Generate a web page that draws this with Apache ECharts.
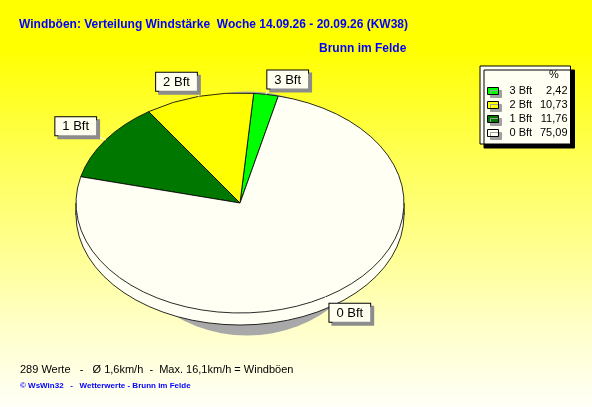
<!DOCTYPE html>
<html><head><meta charset="utf-8">
<script src="https://cdn.jsdelivr.net/npm/echarts@6/dist/echarts.min.js"></script>
<style>html,body{margin:0;padding:0;overflow:hidden;background:#fff}#c{width:592px;height:407px}</style>
</head><body><div id="c"></div>
<script>
// ---- data ----
const categories = ['3 Bft', '2 Bft', '1 Bft', '0 Bft'];
const percents = [2.42, 10.73, 11.76, 75.09];
const colors = ['#00FF00', '#FFFF00', '#007800', '#FFFFF4'];
const titleText = 'Windböen: Verteilung Windstärke  Woche 14.09.26 - 20.09.26 (KW38)';
const subtitleText = 'Brunn im Felde';
const legendHeader = '%';
const footerText = '289 Werte   -   Ø 1,6km/h  -  Max. 16,1km/h = Windböen';
const creditText = '© WsWin32   -   Wetterwerte - Brunn im Felde';

// ---- layout / style ----
const FONT = '"Liberation Sans", Arial, sans-serif';
const CX = 240, CY = 203, RX = 164, RY = 110, DEPTH = 12, START = 13.5;
const SH = {x: 247, y: 213.5, rx: 132, ry: 122};

const total = percents.reduce((a, b) => a + b, 0);
const cum = []; let acc = 0; percents.forEach(v => { cum.push(acc); acc += v; });
const rad = d => d * Math.PI / 180;
const fmt = v => v.toFixed(2).replace('.', ',');

function baseItem() {
  const k = RY / RX;
  return {type: 'group', children: [
    {type: 'group', x: SH.x, y: SH.y, scaleY: SH.ry / SH.rx, children: [
      {type: 'circle', shape: {cx: 0, cy: 0, r: SH.rx}, style: {fill: '#A8A8A8'}}]},
    {type: 'group', x: CX, y: CY + DEPTH, scaleY: k, children: [
      {type: 'circle', shape: {cx: 0, cy: 0, r: RX}, style: {fill: colors[3], stroke: '#000', lineWidth: 1, strokeNoScale: true}}]},
    {type: 'rect', shape: {x: CX - RX, y: CY, width: 2 * RX, height: DEPTH}, style: {fill: colors[3]}},
    {type: 'line', shape: {x1: CX - RX, y1: CY, x2: CX - RX, y2: CY + DEPTH}, style: {stroke: '#000', lineWidth: 1}},
    {type: 'line', shape: {x1: CX + RX, y1: CY, x2: CX + RX, y2: CY + DEPTH}, style: {stroke: '#000', lineWidth: 1}}
  ]};
}

function sliceRender(idx) {
  return function (params, api) {
    const v = api.value(0);
    const span = v / total * 360;
    const thEnd = START - cum[idx] / total * 360;
    const thStart = thEnd - span;
    const thMid = (thStart + thEnd) / 2;
    const s = Math.sin(rad(thMid)), c = Math.cos(rad(thMid));
    const px = CX + RX * s, py = CY - RY * c;
    const ext = 8;
    const lx = px + ext * s + (s < -0.6 ? -3 : 0), ly = py - ext * c + (c > 0.9 ? 2 : 0);
    return {type: 'group', children: [
      {type: 'group', x: CX, y: CY, scaleY: RY / RX, children: [
        {type: 'sector', shape: {cx: 0, cy: 0, r: RX, r0: 0, startAngle: rad(thStart - 90), endAngle: rad(thEnd - 90), clockwise: true},
          style: {fill: colors[idx], stroke: '#000', lineWidth: 1, strokeNoScale: true}}]},
      {type: 'line', z2: 5, shape: {x1: px, y1: py, x2: lx, y2: ly}, style: {stroke: '#FFFFFF', lineWidth: 1}},
      {type: 'text', z2: 10, x: lx, y: ly, style: {
        text: params.seriesName, fill: '#000', font: '13px ' + FONT,
        align: s >= 0 ? 'left' : 'right', verticalAlign: c >= 0 ? 'bottom' : 'top',
        backgroundColor: '#FFFFF0', borderColor: '#000', borderWidth: 1,
        padding: [3, 7, 2, 7], lineHeight: 13,
        shadowColor: '#8C8C8C', shadowOffsetX: 3, shadowOffsetY: 3, shadowBlur: 0}}
    ]};
  };
}

const series = [{
  type: 'custom', name: 'base', coordinateSystem: 'none', silent: true, data: [[0]], renderItem: baseItem, z: 1
}];
categories.forEach((name, i) => {
  series.push({
    type: 'custom', name: name, coordinateSystem: 'none', silent: true, z: 2,
    itemStyle: {color: colors[i]},
    data: [[percents[i]]],
    renderItem: sliceRender(i)
  });
});

const chart = echarts.init(document.getElementById('c'), null, {renderer: 'canvas'});
chart.setOption({
  animation: false,
  backgroundColor: {type: 'linear', x: 0, y: 0, x2: 0, y2: 1, colorStops: [
    {offset: 0, color: '#FFFF00'}, {offset: 0.12, color: '#FFFF00'}, {offset: 0.37, color: '#FFFF50'},
    {offset: 0.61, color: '#FFFF90'}, {offset: 0.8, color: '#FFFFC8'}, {offset: 1, color: '#FFFFF8'}]},
  title: [
    {text: titleText, left: 19, top: 19, padding: 0, textStyle: {color: '#0000FF', fontWeight: 'bold', fontSize: 12, fontFamily: FONT}},
    {text: subtitleText, left: 319, top: 43, padding: 0, textStyle: {color: '#0000FF', fontWeight: 'bold', fontSize: 12, fontFamily: FONT}},
    {text: legendHeader, left: 549, top: 69, padding: 0, textStyle: {color: '#000', fontWeight: 'normal', fontSize: 11, fontFamily: FONT}},
    {text: footerText, left: 20, top: 364, padding: 0, textStyle: {color: '#000', fontWeight: 'normal', fontSize: 11, fontFamily: FONT}},
    {text: creditText, left: 20, top: 382, padding: 0, textStyle: {color: '#0000FF', fontWeight: 'bold', fontSize: 8, fontFamily: FONT}}
  ],
  legend: {
    data: categories, orient: 'vertical', left: 480, top: 66, icon: 'rect',
    itemWidth: 11, itemHeight: 7, itemGap: 2, selectedMode: false,
    padding: [19, 3, 5, 7], backgroundColor: '#FFFFF4', borderColor: '#000', borderWidth: 1,
    shadowColor: '#000', shadowOffsetX: 4, shadowOffsetY: 4, shadowBlur: 0,
    itemStyle: {borderColor: '#000', borderWidth: 1, shadowColor: '#A0A0A0', shadowOffsetX: 3, shadowOffsetY: 3, shadowBlur: 0},
    formatter: name => '{n|' + name + '}{v|' + fmt(percents[categories.indexOf(name)]) + '}',
    textStyle: {fontSize: 11, fontFamily: FONT, color: '#000', lineHeight: 12,
      rich: {n: {width: 30, padding: [0, 0, 0, 6], fontSize: 11, fontFamily: FONT},
             v: {width: 28, align: 'right', fontSize: 11, fontFamily: FONT}}}
  },
  series: series
});
</script></body></html>
